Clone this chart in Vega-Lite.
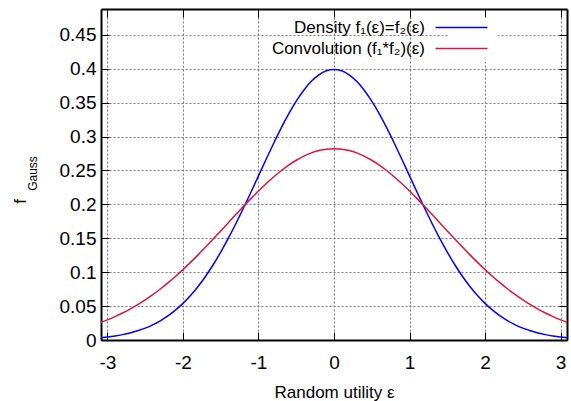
{
  "$schema": "https://vega.github.io/schema/vega-lite/v6.json",
  "autosize": {"type": "none"},
  "padding": {"left": 101, "top": 9, "right": 4, "bottom": 61},
  "width": 466,
  "height": 331,
  "background": "white",
  "config": {
    "view": {"stroke": null},
    "font": "Liberation Sans",
    "axis": {
      "labelFont": "Liberation Sans",
      "titleFont": "Liberation Sans",
      "labelFontSize": 19,
      "titleFontSize": 17,
      "titleFontWeight": "normal",
      "labelColor": "black",
      "titleColor": "black",
      "domainColor": "black",
      "domainWidth": 2,
      "tickColor": "black",
      "tickWidth": 1,
      "tickSize": -8,
      "gridColor": "#777777",
      "gridDash": [2, 2],
      "gridWidth": 1,
      "gridOpacity": 1
    }
  },
  "datasets": {
    "pts": [
      {"x": -3.1, "y": 0.00327, "s": "d"}, {"x": -3.0, "y": 0.00443, "s": "d"}, {"x": -2.9, "y": 0.00595, "s": "d"}, {"x": -2.8, "y": 0.00792, "s": "d"}, {"x": -2.7, "y": 0.01042, "s": "d"}, {"x": -2.6, "y": 0.01358, "s": "d"}, {"x": -2.5, "y": 0.01753, "s": "d"}, {"x": -2.4, "y": 0.02239, "s": "d"}, {"x": -2.3, "y": 0.02833, "s": "d"}, {"x": -2.2, "y": 0.03547, "s": "d"}, {"x": -2.1, "y": 0.04398, "s": "d"}, {"x": -2.0, "y": 0.05399, "s": "d"}, {"x": -1.9, "y": 0.06562, "s": "d"}, {"x": -1.8, "y": 0.07895, "s": "d"}, {"x": -1.7, "y": 0.09405, "s": "d"}, {"x": -1.6, "y": 0.11092, "s": "d"}, {"x": -1.5, "y": 0.12952, "s": "d"}, {"x": -1.4, "y": 0.14973, "s": "d"}, {"x": -1.3, "y": 0.17137, "s": "d"}, {"x": -1.2, "y": 0.19419, "s": "d"}, {"x": -1.1, "y": 0.21785, "s": "d"}, {"x": -1.0, "y": 0.24197, "s": "d"}, {"x": -0.9, "y": 0.26609, "s": "d"}, {"x": -0.8, "y": 0.28969, "s": "d"}, {"x": -0.7, "y": 0.31225, "s": "d"}, {"x": -0.6, "y": 0.33322, "s": "d"}, {"x": -0.5, "y": 0.35207, "s": "d"}, {"x": -0.4, "y": 0.36827, "s": "d"}, {"x": -0.3, "y": 0.38139, "s": "d"}, {"x": -0.2, "y": 0.39104, "s": "d"}, {"x": -0.1, "y": 0.39695, "s": "d"}, {"x": 0.0, "y": 0.39894, "s": "d"}, {"x": 0.1, "y": 0.39695, "s": "d"}, {"x": 0.2, "y": 0.39104, "s": "d"}, {"x": 0.3, "y": 0.38139, "s": "d"}, {"x": 0.4, "y": 0.36827, "s": "d"}, {"x": 0.5, "y": 0.35207, "s": "d"}, {"x": 0.6, "y": 0.33322, "s": "d"}, {"x": 0.7, "y": 0.31225, "s": "d"}, {"x": 0.8, "y": 0.28969, "s": "d"}, {"x": 0.9, "y": 0.26609, "s": "d"}, {"x": 1.0, "y": 0.24197, "s": "d"}, {"x": 1.1, "y": 0.21785, "s": "d"}, {"x": 1.2, "y": 0.19419, "s": "d"}, {"x": 1.3, "y": 0.17137, "s": "d"}, {"x": 1.4, "y": 0.14973, "s": "d"}, {"x": 1.5, "y": 0.12952, "s": "d"}, {"x": 1.6, "y": 0.11092, "s": "d"}, {"x": 1.7, "y": 0.09405, "s": "d"}, {"x": 1.8, "y": 0.07895, "s": "d"}, {"x": 1.9, "y": 0.06562, "s": "d"}, {"x": 2.0, "y": 0.05399, "s": "d"}, {"x": 2.1, "y": 0.04398, "s": "d"}, {"x": 2.2, "y": 0.03547, "s": "d"}, {"x": 2.3, "y": 0.02833, "s": "d"}, {"x": 2.4, "y": 0.02239, "s": "d"}, {"x": 2.5, "y": 0.01753, "s": "d"}, {"x": 2.6, "y": 0.01358, "s": "d"}, {"x": 2.7, "y": 0.01042, "s": "d"}, {"x": 2.8, "y": 0.00792, "s": "d"}, {"x": 2.9, "y": 0.00595, "s": "d"}, {"x": 3.0, "y": 0.00443, "s": "d"}, {"x": 3.1, "y": 0.00327, "s": "d"},
      {"x": -3.1, "y": 0.02553, "s": "c"}, {"x": -3.0, "y": 0.02973, "s": "c"}, {"x": -2.9, "y": 0.03446, "s": "c"}, {"x": -2.8, "y": 0.03974, "s": "c"}, {"x": -2.7, "y": 0.04559, "s": "c"}, {"x": -2.6, "y": 0.05205, "s": "c"}, {"x": -2.5, "y": 0.05913, "s": "c"}, {"x": -2.4, "y": 0.06684, "s": "c"}, {"x": -2.3, "y": 0.07517, "s": "c"}, {"x": -2.2, "y": 0.08412, "s": "c"}, {"x": -2.1, "y": 0.09367, "s": "c"}, {"x": -2.0, "y": 0.10378, "s": "c"}, {"x": -1.9, "y": 0.11440, "s": "c"}, {"x": -1.8, "y": 0.12549, "s": "c"}, {"x": -1.7, "y": 0.13697, "s": "c"}, {"x": -1.6, "y": 0.14875, "s": "c"}, {"x": -1.5, "y": 0.16073, "s": "c"}, {"x": -1.4, "y": 0.17282, "s": "c"}, {"x": -1.3, "y": 0.18489, "s": "c"}, {"x": -1.2, "y": 0.19681, "s": "c"}, {"x": -1.1, "y": 0.20846, "s": "c"}, {"x": -1.0, "y": 0.21970, "s": "c"}, {"x": -0.9, "y": 0.23038, "s": "c"}, {"x": -0.8, "y": 0.24039, "s": "c"}, {"x": -0.7, "y": 0.24957, "s": "c"}, {"x": -0.6, "y": 0.25782, "s": "c"}, {"x": -0.5, "y": 0.26500, "s": "c"}, {"x": -0.4, "y": 0.27103, "s": "c"}, {"x": -0.3, "y": 0.27582, "s": "c"}, {"x": -0.2, "y": 0.27929, "s": "c"}, {"x": -0.1, "y": 0.28139, "s": "c"}, {"x": 0.0, "y": 0.28209, "s": "c"}, {"x": 0.1, "y": 0.28139, "s": "c"}, {"x": 0.2, "y": 0.27929, "s": "c"}, {"x": 0.3, "y": 0.27582, "s": "c"}, {"x": 0.4, "y": 0.27103, "s": "c"}, {"x": 0.5, "y": 0.26500, "s": "c"}, {"x": 0.6, "y": 0.25782, "s": "c"}, {"x": 0.7, "y": 0.24957, "s": "c"}, {"x": 0.8, "y": 0.24039, "s": "c"}, {"x": 0.9, "y": 0.23038, "s": "c"}, {"x": 1.0, "y": 0.21970, "s": "c"}, {"x": 1.1, "y": 0.20846, "s": "c"}, {"x": 1.2, "y": 0.19681, "s": "c"}, {"x": 1.3, "y": 0.18489, "s": "c"}, {"x": 1.4, "y": 0.17282, "s": "c"}, {"x": 1.5, "y": 0.16073, "s": "c"}, {"x": 1.6, "y": 0.14875, "s": "c"}, {"x": 1.7, "y": 0.13697, "s": "c"}, {"x": 1.8, "y": 0.12549, "s": "c"}, {"x": 1.9, "y": 0.11440, "s": "c"}, {"x": 2.0, "y": 0.10378, "s": "c"}, {"x": 2.1, "y": 0.09367, "s": "c"}, {"x": 2.2, "y": 0.08412, "s": "c"}, {"x": 2.3, "y": 0.07517, "s": "c"}, {"x": 2.4, "y": 0.06684, "s": "c"}, {"x": 2.5, "y": 0.05913, "s": "c"}, {"x": 2.6, "y": 0.05205, "s": "c"}, {"x": 2.7, "y": 0.04559, "s": "c"}, {"x": 2.8, "y": 0.03974, "s": "c"}, {"x": 2.9, "y": 0.03446, "s": "c"}, {"x": 3.0, "y": 0.02973, "s": "c"}, {"x": 3.1, "y": 0.02553, "s": "c"}
    ]
  },
  "data": {"name": "pts"},
  "resolve": {"axis": {"x": "independent", "y": "independent"}},
  "layer": [
    {
      "mark": {"type": "line", "clip": true, "strokeWidth": 1.5, "interpolate": "monotone"},
      "encoding": {
        "x": {
          "field": "x", "type": "quantitative",
          "scale": {"domain": [-3.085, 3.085], "nice": false, "zero": false},
          "axis": {
            "orient": "bottom",
            "values": [-3, -2, -1, 0, 1, 2, 3],
            "labelExpr": "'' + datum.value",
            "labelPadding": 21,
            "labelFlush": false,
            "title": "Random utility ε",
            "titleBaseline": "alphabetic",
            "titleAnchor": "middle",
            "titleY": 57,
            "grid": true
          }
        },
        "y": {
          "field": "y", "type": "quantitative",
          "scale": {"domain": [0, 0.488], "nice": false},
          "axis": {
            "orient": "left",
            "values": [0, 0.05, 0.1, 0.15, 0.2, 0.25, 0.3, 0.35, 0.4, 0.45],
            "format": "~g",
            "labelPadding": 13,
            "labelFlush": false,
            "title": "f",
            "titleAngle": 270,
            "titleAnchor": "start",
            "titleAlign": "center",
            "titleY": 192,
            "titlePadding": 30,
            "grid": true
          }
        },
        "color": {
          "field": "s", "type": "nominal",
          "scale": {"domain": ["d", "c"], "range": ["#0000ff", "#d8163c"]},
          "legend": {
            "orient": "none",
            "legendX": 347,
            "legendY": 5,
            "zindex": 1,
            "title": null,
            "fillColor": "white",
            "strokeColor": null,
            "padding": 5,
            "symbolType": "M-5,0H5",
            "symbolSize": 108,
            "symbolStrokeWidth": 1.5,
            "labelAlign": "right",
            "labelOffset": -45,
            "labelFont": "Liberation Sans",
            "labelFontSize": 17,
            "labelColor": "black",
            "labelLimit": 400,
            "rowPadding": 3,
            "labelExpr": "datum.value == 'd' ? 'Density f₁(ε)=f₂(ε)' : 'Convolution (f₁*f₂)(ε)'"
          }
        }
      }
    },
    {
      "mark": {"type": "line", "opacity": 0},
      "encoding": {
        "x": {
          "field": "x", "type": "quantitative",
          "axis": {"orient": "top", "zindex": 2, "values": [-3, -2, -1, 0, 1, 2, 3], "labels": false, "grid": false, "title": null}
        },
        "y": {
          "field": "y", "type": "quantitative",
          "axis": {
            "orient": "left", "labels": false, "ticks": false, "domain": false, "grid": false,
            "title": "Gauss", "titleFontSize": 12, "titleAngle": 270, "titleAlign": "center",
            "titleY": 164, "titlePadding": 62
          }
        },
        "detail": {"field": "s"}
      }
    },
    {
      "mark": {"type": "line", "opacity": 0},
      "encoding": {
        "x": {"field": "x", "type": "quantitative", "axis": null},
        "y": {
          "field": "y", "type": "quantitative",
          "axis": {"orient": "right", "values": [0, 0.05, 0.1, 0.15, 0.2, 0.25, 0.3, 0.35, 0.4, 0.45], "labels": false, "grid": false, "title": null}
        },
        "detail": {"field": "s"}
      }
    }
  ]
}
